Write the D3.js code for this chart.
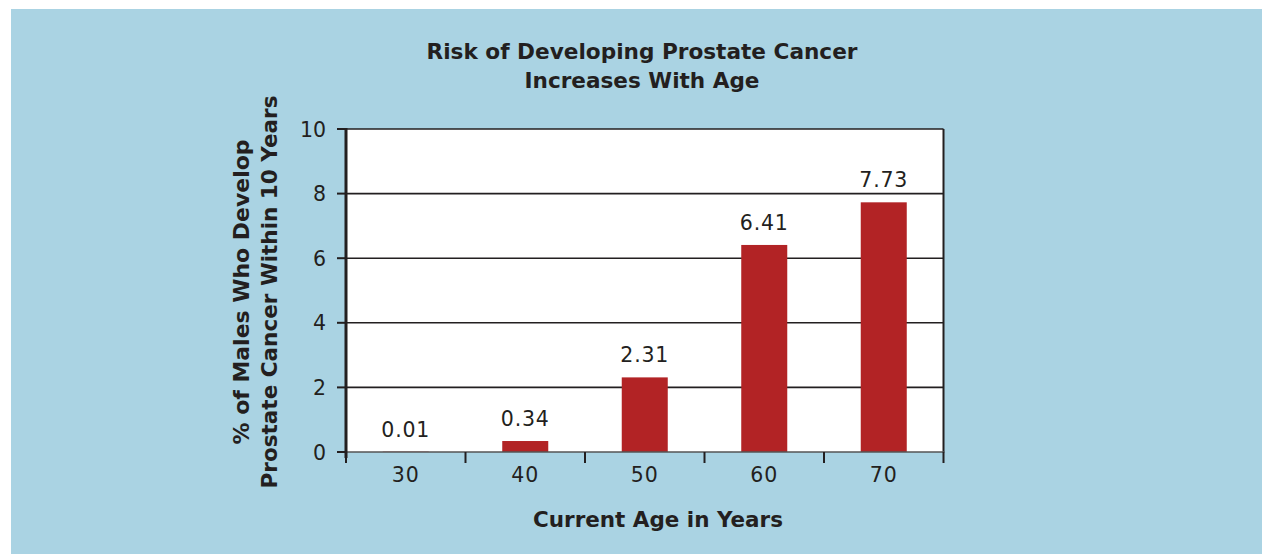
<!DOCTYPE html>
<html><head><meta charset="utf-8">
<script src="https://cdn.jsdelivr.net/npm/d3@7"></script>
<style>
html,body{margin:0;padding:0;background:#fff;}
svg text{font-family:"DejaVu Sans","Open Sans",sans-serif;fill:#231f20;}
</style></head>
<body>
<svg id="c" width="1262" height="554"></svg>
<script>
const categories = ["30","40","50","60","70"];
const values = [0.01, 0.34, 2.31, 6.41, 7.73];
const valueLabels = ["0.01","0.34","2.31","6.41","7.73"];
const yTicks = [0,2,4,6,8,10];
const titleLines = ["Risk of Developing Prostate Cancer","Increases With Age"];
const yTitleLines = ["% of Males Who Develop","Prostate Cancer Within 10 Years"];
const xTitle = "Current Age in Years";

const svg = d3.select("#c");
const ink = "#231f20";
svg.append("rect").attr("x",11).attr("y",9).attr("width",1251).attr("height",545).attr("fill","#aad3e3");

const L=346, R=943.5, T=129, B=452;
const x = d3.scaleBand().domain(categories).range([L,R]).paddingInner(0.615).paddingOuter(0.3075);
const y = d3.scaleLinear().domain([0,10]).range([B,T]);

svg.append("rect").attr("x",L).attr("y",T).attr("width",R-L).attr("height",B-T).attr("fill","#fff");

// gridlines
svg.append("g").selectAll("line").data(yTicks.filter(d=>d>0)).join("line")
  .attr("x1",L).attr("x2",R).attr("y1",d=>y(d)).attr("y2",d=>y(d))
  .attr("stroke",ink).attr("stroke-width",1.6);
// right border
svg.append("line").attr("x1",R).attr("x2",R).attr("y1",T).attr("y2",B)
  .attr("stroke",ink).attr("stroke-width",2);

// bars
svg.append("g").selectAll("rect").data(values).join("rect")
  .attr("x",(d,i)=>x(categories[i])).attr("width",x.bandwidth())
  .attr("y",d=>y(d)).attr("height",d=>B-y(d)).attr("fill","#b22325");

// value labels
svg.append("g").selectAll("text").data(values).join("text")
  .attr("x",(d,i)=>x(categories[i])+x.bandwidth()/2)
  .attr("y",d=>y(d)-15).attr("text-anchor","middle")
  .attr("font-size",20.5).attr("letter-spacing",0.8).text((d,i)=>valueLabels[i]);

// bottom axis line
svg.append("line").attr("x1",L).attr("x2",R+1).attr("y1",B).attr("y2",B)
  .attr("stroke","#555").attr("stroke-width",1.6);
// bottom ticks at band boundaries
const step = x.step();
const bounds = d3.range(categories.length+1).map(i=>L+i*step);
svg.append("g").selectAll("line").data(bounds).join("line")
  .attr("x1",d=>d).attr("x2",d=>d).attr("y1",B).attr("y2",B+11)
  .attr("stroke",ink).attr("stroke-width",2);
// x tick labels
svg.append("g").selectAll("text").data(categories).join("text")
  .attr("x",d=>x(d)+x.bandwidth()/2).attr("y",482).attr("text-anchor","middle")
  .attr("font-size",20.5).attr("letter-spacing",1).text(d=>d);

// left axis
svg.append("line").attr("x1",L).attr("x2",L).attr("y1",T-1).attr("y2",B+6)
  .attr("stroke",ink).attr("stroke-width",3);
svg.append("g").selectAll("line").data(yTicks).join("line")
  .attr("x1",L-9).attr("x2",L).attr("y1",d=>y(d)).attr("y2",d=>y(d))
  .attr("stroke",ink).attr("stroke-width",2);
svg.append("g").selectAll("text").data(yTicks).join("text")
  .attr("x",326).attr("y",d=>y(d)+7.5).attr("text-anchor","end")
  .attr("font-size",20.5).text(d=>d);

// title
const titleW = [431, 235];
svg.append("g").selectAll("text").data(titleLines).join("text")
  .attr("x",642).attr("y",(d,i)=>59+i*29).attr("text-anchor","middle")
  .attr("font-size",21).attr("font-weight",700)
  .attr("textLength",(d,i)=>titleW[i]).attr("lengthAdjust","spacingAndGlyphs").text(d=>d);

// x title
svg.append("text").attr("x",658).attr("y",527).attr("text-anchor","middle")
  .attr("font-size",20.5).attr("font-weight",700)
  .attr("textLength",250).attr("lengthAdjust","spacingAndGlyphs").text(xTitle);

// y title
const yTitleW = [305, 393];
svg.append("g").selectAll("text").data(yTitleLines).join("text")
  .attr("transform",(d,i)=>`translate(${249+i*28},292) rotate(-90)`)
  .attr("text-anchor","middle").attr("font-size",20.5).attr("font-weight",700)
  .attr("textLength",(d,i)=>yTitleW[i]).attr("lengthAdjust","spacingAndGlyphs").text(d=>d);
</script>
</body></html>
